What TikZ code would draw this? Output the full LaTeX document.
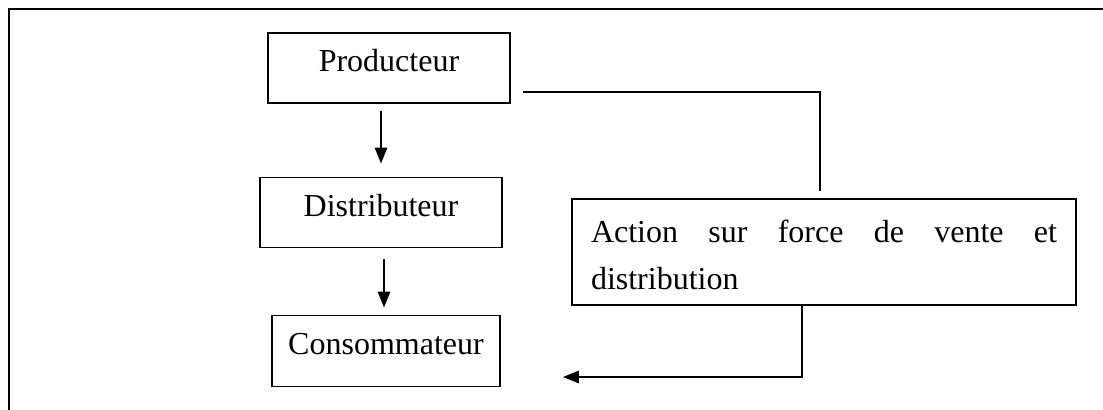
\documentclass[tikz,border=0pt]{standalone}
\usepackage{fontspec}
\setmainfont{Liberation Serif}
\usetikzlibrary{arrows.meta}
\begin{document}
\begin{tikzpicture}[x=0.5pt,y=-0.5pt,
  every node/.style={font=\fontsize{16}{23.5}\selectfont},
  etape/.style={draw, line width=0.8pt, inner sep=0pt, text height=19.5pt, text depth=15.5pt},
  fleche/.style={line width=1.3pt, -{Triangle[length=8pt,width=6pt]}},
  ligne/.style={line width=1.3pt}]
\useasboundingbox (0,0) rectangle (1103,410);
\draw[line width=1pt] (9,410) -- (9,9) -- (1103,9);
\node[etape, minimum width=121pt] (prod) at (389,68){Producteur};
\node[etape, minimum width=121pt] (dist) at (381,212.5){Distributeur};
\node[etape, minimum width=114pt, text depth=16pt] (cons) at (386,351){Consommateur};
\node[draw, line width=0.8pt, inner xsep=9pt, inner ysep=0pt, text width=233pt, align=left,
  text height=22pt, text depth=31pt, minimum width=252pt] (action) at (824,252)
  {Action\hfill sur\hfill force\hfill de\hfill vente\hfill et\\distribution};
\draw[fleche, shorten <=3.5pt, shorten >=6.5pt] ([xshift=-4pt]prod.south) -- ([xshift=-4pt]prod.south |- dist.north);
\draw[fleche, shorten <=5.5pt, shorten >=3.5pt] ([xshift=1.5pt]dist.south) -- ([xshift=1.5pt]dist.south |- cons.north);
\draw[ligne] ([xshift=6pt,yshift=-12pt]prod.east) -| ([xshift=-2pt,yshift=3.5pt]action.north);
\draw[fleche] ([xshift=-11pt]action.south) |- ([xshift=31pt,yshift=-13pt]cons.east);
\end{tikzpicture}
\end{document}
